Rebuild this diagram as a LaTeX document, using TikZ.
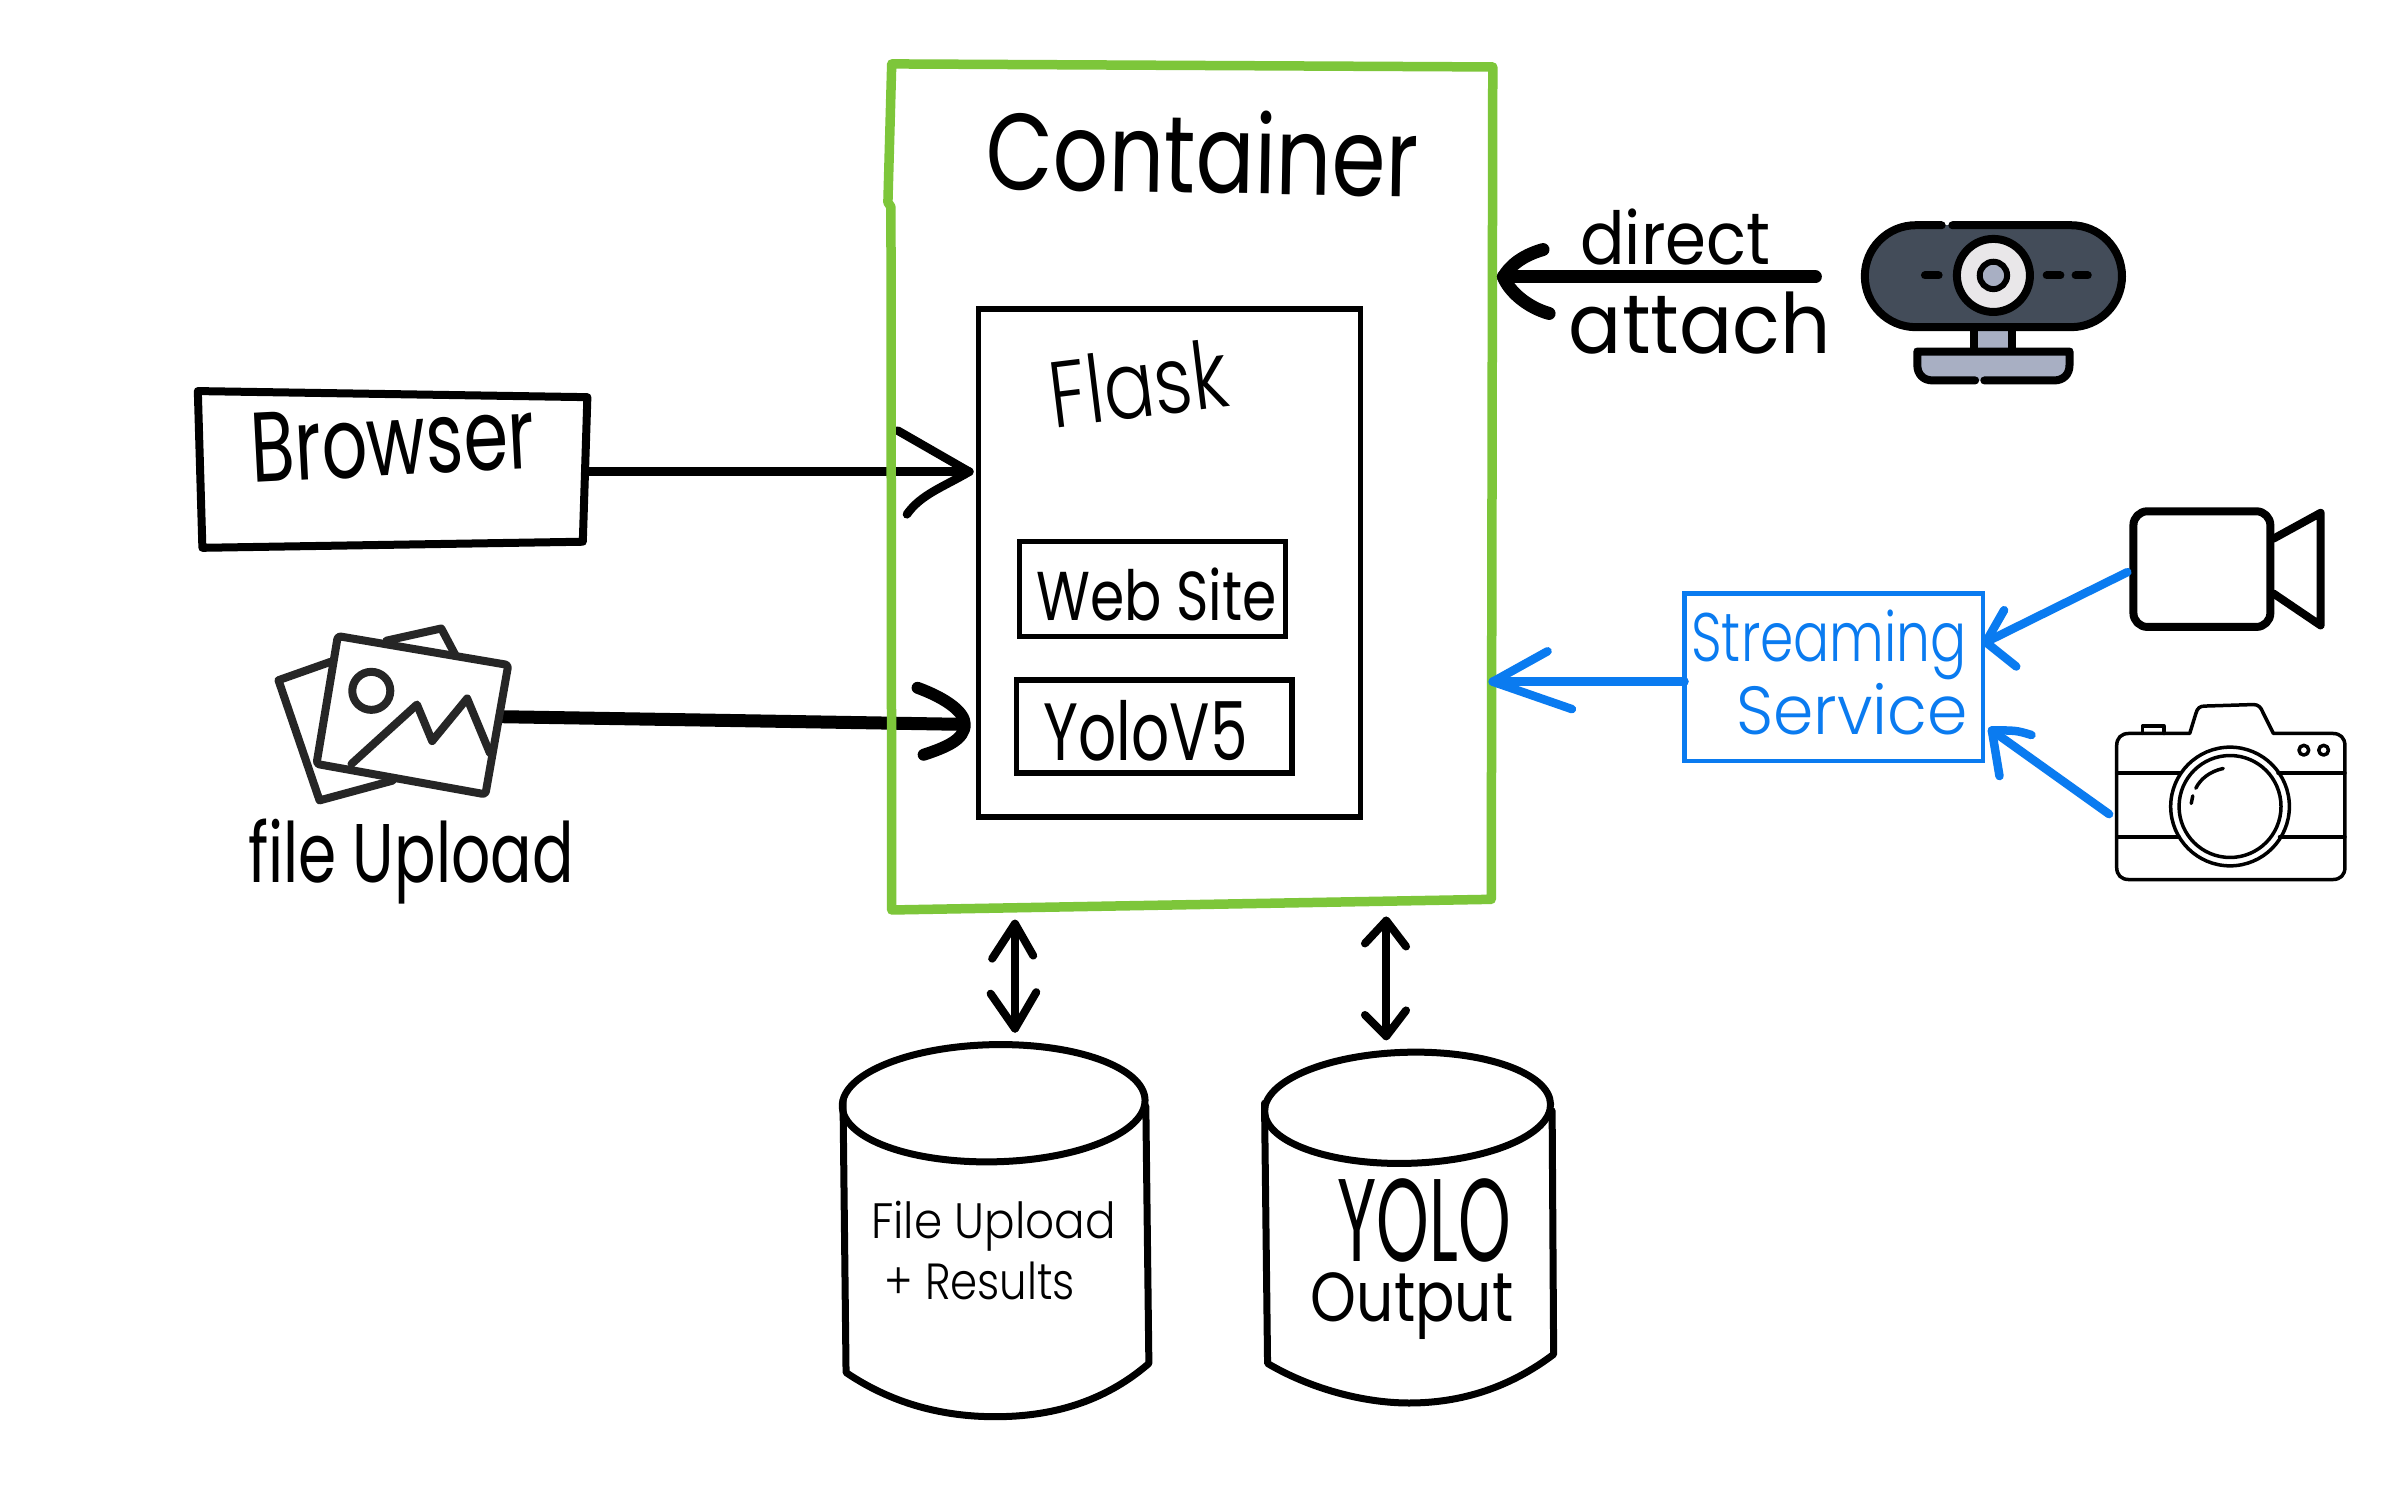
\documentclass[tikz,border=0pt]{standalone}
\usepackage{fontspec}
\setmainfont{Poppins}
\newfontfamily\lighthand{Poppins Light}
\usetikzlibrary{calc,fit}
\definecolor{frame}{HTML}{7DC63A}
\definecolor{stream}{HTML}{0A7BF0}
\definecolor{cambody}{HTML}{434C59}
\definecolor{camgrey}{HTML}{A8AFC3}
\definecolor{camlens}{HTML}{E9E7E9}
\definecolor{picink}{HTML}{262626}
% \hw[font]{width}{height}{text}: real text, sized and stretched to fill width x height
\newcommand\hw[4][\rmfamily]{%
  \setbox0=\hbox{#1\fontsize{100}{100}\selectfont #4}%
  \pgfmathsetmacro\hwsize{100/(\the\ht0+\the\dp0)*#3*1.5217}%
  \pgfmathsetmacro\hwstretch{#2*1.5217/(\the\wd0)*100/\hwsize}%
  {#1\fontsize{\hwsize}{\hwsize}\addfontfeatures{FakeStretch=\hwstretch}#4}}
\tikzset{
  x=1.5217pt,y=-1.5217pt,
  ink/.style={line width=#1,line cap=round,line join=round},
  bound/.style={inner sep=0pt,outer sep=0pt},
  box/.style={draw,line width=#1,inner sep=0pt,outer sep=0pt},
  hand/.style={inner sep=0pt,outer sep=0pt},
  streamline/.style={ink=8.5pt,draw=stream},
}
\begin{document}
\begin{tikzpicture}
\useasboundingbox[fill=white] (0,0) rectangle (1568,979.8);

%--- invisible named extents
\node[bound,fit={(130,260)(387,360)}] (browser) {};
\node[bound,fit={(183,412)(330,530)}] (pics) {};
\node[bound,fit={(586,44)(981,595)}] (container) {};
\node[box=5.5pt,fit={(643,203)(894,537)}] (flask) {};
\node[box=5pt,fit={(670,356)(845,418)}] (website) {};
\node[box=5.5pt,fit={(668,447)(849,508)}] (yolov) {};
\node[box=4.5pt,draw=stream,fit={(1107,390)(1303,500)}] (streaming) {};
\coordinate (attachTip) at (988,182);
\coordinate (attachEnd) at (1193,182);
\coordinate (videoOut) at (1398,376);
\coordinate (videoTip) at (1305,422);
\coordinate (cameraOut) at (1386,535);
\coordinate (cameraTip) at (1309,480);
\coordinate (streamTip) at (981,448);
\coordinate (browserTip) at (637,310);
\coordinate (picsTip) at (632,476);
\coordinate (dbAtop) at (667,607);
\coordinate (dbAbot) at (667,676);
\coordinate (dbBtop) at (911,605);
\coordinate (dbBbot) at (911,681);

%--- connectors under the green frame
\draw[ink=8.5pt] (browser.east |- browserTip) -- (browserTip);
\draw[ink=8.5pt] (590,283) -- (browserTip) .. controls (620,320) and (605,325) .. (596,338);
\draw[line width=13pt,line cap=round] (330,471) -- (picsTip);
\draw[ink=12pt] (603,452) .. controls (622,459) and (634,468) .. (634,476) .. controls (634,486) and (622,491) .. (607,496);

%--- Container
\draw[ink=9.5pt,draw=frame] (586,42) -- (981,44) -- (980,591) -- (586,598) -- (585.5,136) -- (583.5,133) -- cycle;
\node[hand,rotate=-1] (containerlabel) at (790,100) {\hw{284}{55}{Container}};

%--- Flask
\node[hand,rotate=7] (flasklabel) at (748,252) {\hw[\lighthand]{118}{46}{Flask}};
\node[hand] (websitelabel) at (760,391) {\hw{158}{35}{Web Site}};
\node[hand] (yololabel) at (753,480) {\hw{134}{40}{YoloV5}};

%--- Browser
\draw[line width=8pt,line join=round] (130,257) -- (386,261) -- (383,356) -- (133,360) -- cycle;
\node[hand,rotate=3] (browserlabel) at (258,290) {\hw{187}{46}{Browser}};

%--- Pictures icon
\begin{scope}[picink,line width=8pt,line join=round,line cap=round]
\draw (217,435) -- (183,447) -- (210,526) -- (258,513);
\draw (254,421) -- (290,413) -- (299,430);
\draw[rounded corners=3pt] (222,418) -- (334,437) -- (319,522) -- (208,502) -- cycle;
\draw (244,454) ellipse (12.5 and 12.5);
\draw (231,502) -- (274,463) -- (284,487) -- (307,459) -- (322,495);
\end{scope}
\node[hand] (fileuploadlabel) at (270,566) {\hw{214}{56}{file Upload}};

%--- Webcam
\begin{scope}[line width=8pt,line cap=round,line join=round]
\fill[camgrey] (1297,215) rectangle (1322,232);
\draw (1297,215) -- (1297,229) (1322,215) -- (1322,229);
\fill[camgrey] (1258,229) -- (1362,229) -- (1362,240) .. controls (1362,246) and (1356,250) .. (1350,250) -- (1270,250) .. controls (1264,250) and (1258,246) .. (1258,240) -- cycle;
\draw (1298,250) -- (1270,250) .. controls (1264,250) and (1260,246) .. (1260,240) -- (1260,231) -- (1360,231) -- (1360,240) .. controls (1360,246) and (1356,250) .. (1350,250) -- (1304,250);
\fill[cambody,rounded corners=51pt] (1225.5,148) rectangle (1394.5,215);
\draw (1276,148) -- (1259,148) arc[start angle=-90,end angle=-270,radius=33.5] -- (1361,215) arc[start angle=90,end angle=-90,radius=33.5] -- (1283,148);
\fill[camlens] (1310,181) circle (24);
\draw (1310,181) circle (24);
\draw[fill=camgrey,line width=6pt] (1310,181) circle (9);
\draw (1265,181) -- (1274,181) (1345,181) -- (1354,181) (1364,181) -- (1372,181);
\end{scope}

%--- Video camera
\begin{scope}[line width=8pt,line join=round,line cap=round]
\draw[rounded corners=14pt] (1402,336) rectangle (1492,412);
\draw (1494,354) -- (1525,337) -- (1525,411) -- (1494,390);
\end{scope}

%--- Stills camera
\begin{scope}[line width=3.5pt,line join=round,line cap=round]
\draw (1439,482) -- (1443,469) .. controls (1444,465) and (1446,464) .. (1449,464) -- (1481,463) .. controls (1484,463) and (1486,465) .. (1487,468) -- (1494,482) -- (1533,482) .. controls (1538,482) and (1541,485) .. (1541,490) -- (1541,570) .. controls (1541,575) and (1538,578) .. (1533,578) -- (1399,578) .. controls (1394,578) and (1391,575) .. (1391,570) -- (1391,490) .. controls (1391,485) and (1394,482) .. (1399,482) -- cycle;
\draw (1408,482) -- (1408,477) -- (1422,477) -- (1422,482);
\draw (1391,508) -- (1433,508) (1497,508) -- (1541,508);
\draw (1391,550) -- (1432,550) (1498,550) -- (1541,550);
\draw (1465.5,530) circle (39);
\draw (1465.5,530) circle (33.5);
\draw (1461,505) .. controls (1452,507) and (1446,512) .. (1443,518);
\draw (1441,523) -- (1440,528);
\draw (1514,493) circle (3.2);
\draw (1527,493) circle (3.2);
\end{scope}

%--- direct attach
\draw[ink=13pt] (attachEnd) -- (attachTip);
\draw[ink=13pt] (1014,164) .. controls (1000,168) and (992,175) .. (attachTip) .. controls (992,192) and (1004,202) .. (1018,206);
\node[hand] (directlabel) at (1101,156) {\hw{125}{37}{direct}};
\node[hand] (attachlabel) at (1117,212) {\hw{172}{41}{attach}};

%--- Streaming
\node[hand,text=stream] (streamlabel) at (1202,424) {\hw[\lighthand]{181}{46}{Streaming}};
\node[hand,text=stream] (servicelabel) at (1217,466) {\hw[\lighthand]{152}{34}{Service}};
\draw[streamline] (streaming.west |- streamTip) -- (streamTip);
\draw[streamline] (1017,428) -- (streamTip) -- (1033,466);
\draw[streamline] (videoOut) -- (videoTip);
\draw[streamline] (1317,401) -- (videoTip) -- (1325,438);
\draw[streamline] (cameraOut) -- (cameraTip);
\draw[streamline] (1335,483) .. controls (1325,480) .. (cameraTip) -- (1314,510);

%--- Double arrows
\draw[ink=8pt] (dbAtop) -- (dbAbot);
\draw[ink=8pt] (652,630) -- (dbAtop) -- (679,628);
\draw[ink=8pt] (651,653) -- (dbAbot) -- (681,652);
\draw[ink=8pt] (dbBtop) -- (dbBbot);
\draw[ink=8pt] (897,620) -- (dbBtop) -- (924,622);
\draw[ink=8pt] (897,667) -- (dbBbot) -- (924,664);

%--- Cylinders
\begin{scope}[line width=7pt,line join=round,line cap=round]
\draw[rotate around={1.2:(653,725)}] (653,725) ellipse (99.5 and 38.5);
\draw (554,723) -- (556,902) .. controls (590,925) and (625,931) .. (654,931) .. controls (690,931) and (725,922) .. (755,896) -- (753,727);
\draw[rotate around={1.5:(925,728)}] (925,728) ellipse (94 and 36.5);
\draw (831,725) -- (833,896) .. controls (860,912) and (895,922) .. (926,922) .. controls (960,922) and (992,912) .. (1021,890) -- (1020,730);
\end{scope}
\node[hand] (dbAlabel) at (653,806) {\hw[\lighthand]{161}{33}{File Upload}};
\node[hand] (dbAlabelb) at (644,842) {\hw[\lighthand]{125}{25}{+ Results}};
\node[hand] (dbBlabel) at (936,802) {\hw{114}{55}{YOLO}};
\node[hand] (dbBlabelb) at (928,858) {\hw{133}{44}{Output}};
\end{tikzpicture}
\end{document}
